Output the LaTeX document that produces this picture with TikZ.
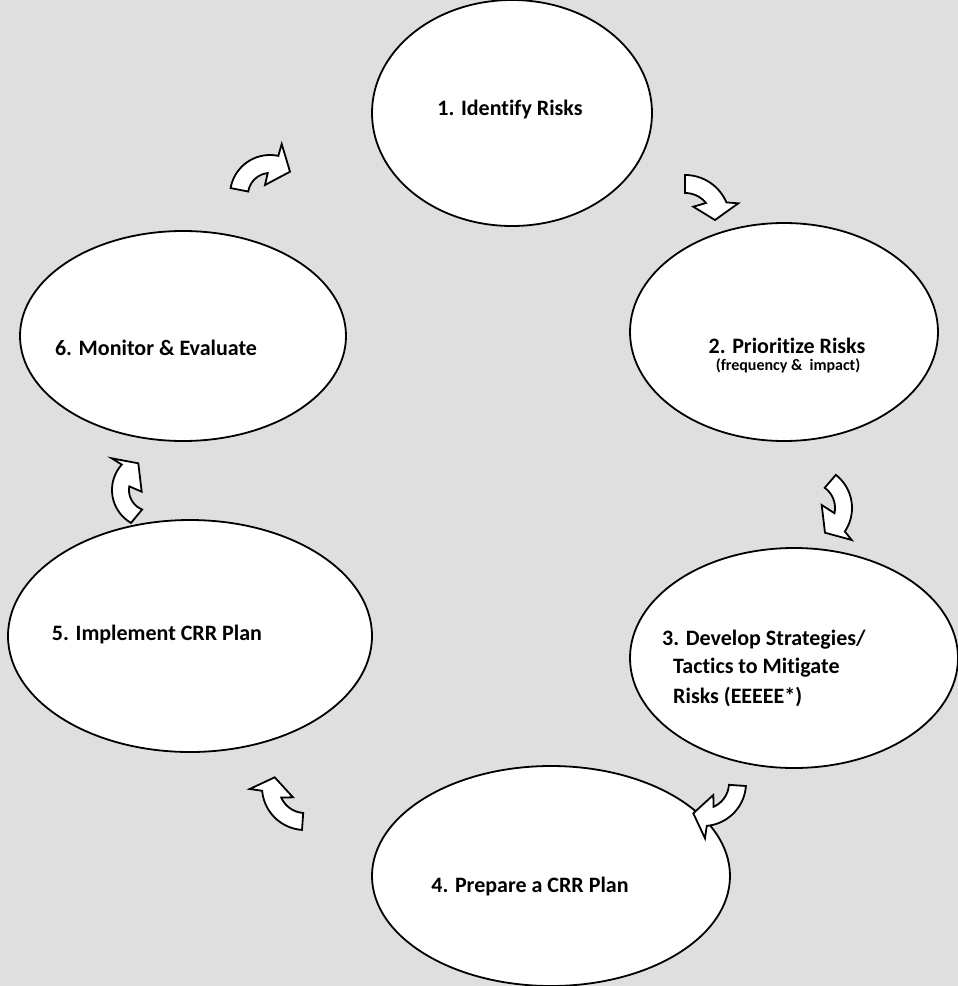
\documentclass[tikz,border=0pt]{standalone}
\usepackage{fontspec}
\setmainfont{Carlito}[Ligatures=NoCommon]
\usetikzlibrary{shapes.geometric}
\definecolor{bgc}{RGB}{223,223,223}
\begin{document}
\begin{tikzpicture}[x=1pt,y=-1pt,
  stage/.style={ellipse, draw=black, fill=white, line width=1.8pt, inner sep=0pt, outer sep=0pt},
  lbl/.style={font=\bfseries\fontsize{22}{26}\selectfont, inner sep=0pt},
  sublbl/.style={font=\bfseries\fontsize{16}{19}\selectfont, inner sep=0pt},
  blockarrow/.style={draw=black, fill=white, line width=1.8pt, line join=miter}]
\fill[bgc] (0,0) rectangle (958,986);
\useasboundingbox (0,0) rectangle (958,986);

% stages
\node[stage, minimum width=280pt, minimum height=226pt] (e1) at (512,113) {};
\node[stage, minimum width=308pt, minimum height=218pt] (e2) at (784,332) {};
\node[stage, minimum width=328pt, minimum height=220pt] (e3) at (794,658) {};
\node[stage, minimum width=358pt, minimum height=220pt] (e4) at (551,876) {};
\node[stage, minimum width=364pt, minimum height=232pt] (e5) at (190,636) {};
\node[stage, minimum width=326pt, minimum height=210pt] (e6) at (183,336) {};

% labels
\node[lbl] (t1) at (510,110) {1. Identify Risks};
\node[lbl] (t2) at (787,346) {2. Prioritize Risks};
\node[sublbl] (t2b) at (788,366) {(frequency \&\ \ impact)};
\node[lbl, anchor=west] (t3a) at (662,640) {3. Develop Strategies/};
\node[lbl, anchor=west] (t3b) at (673,668) {Tactics to Mitigate};
\node[lbl, anchor=west] (t3c) at (673,697) {Risks (EEEEE*)};
\node[lbl] (t4) at (530,886) {4. Prepare a CRR Plan};
\node[lbl] (t5) at (157,635) {5. Implement CRR Plan};
\node[lbl] (t6) at (156,348) {6. Monitor \& Evaluate};

% curved block arrows
% 6 -> 1
\draw[blockarrow] plot[domain=-170:-78, samples=30] ({270+40*cos(\x)},{195+40*sin(\x)})
  -- (281.7,144) -- (290,171.7) -- (265,185)
  -- plot[domain=-96:-171, samples=30] ({270+22*cos(\x)},{195+22*sin(\x)}) -- cycle;
% 1 -> 2
\draw[blockarrow] plot[domain=-90:-23, samples=30] ({685+45*cos(\x)},{220+45*sin(\x)})
  -- (738.3,203.3) -- (715,220) -- (693.3,206.7)
  -- plot[domain=-39:-90, samples=30] ({685+27*cos(\x)},{220+27*sin(\x)}) -- cycle;
% 2 -> 3
\draw[blockarrow] plot[domain=-52:34, samples=30] ({810+42*cos(\x)},{508+42*sin(\x)})
  -- (851.7,540) -- (825,532.7) -- (821.7,505)
  -- plot[domain=12:-54, samples=30] ({810+25*cos(\x)},{508+25*sin(\x)}) -- cycle;
% 3 -> 4
\draw[blockarrow] plot[domain=4:85, samples=30] ({703+43*cos(\x)},{783+43*sin(\x)})
  -- (705,838.3) -- (693.3,813.3) -- (713.3,795)
  -- plot[domain=66:4, samples=30] ({703+26*cos(\x)},{783+26*sin(\x)}) -- cycle;
% 4 -> 5
\draw[blockarrow] plot[domain=94:175, samples=30] ({305+43*cos(\x)},{787+43*sin(\x)})
  -- (249.7,789) -- (274.7,777.3) -- (293,797.3)
  -- plot[domain=156:94, samples=30] ({305+26*cos(\x)},{787+26*sin(\x)}) -- cycle;
% 5 -> 6
\draw[blockarrow] plot[domain=120:222, samples=30] ({150+38*cos(\x)},{490+38*sin(\x)})
  -- (111.7,458.3) -- (138.3,463.3) -- (141.7,491.7)
  -- plot[domain=190:112, samples=30] ({150+21*cos(\x)},{490+21*sin(\x)}) -- cycle;
\end{tikzpicture}
\end{document}
